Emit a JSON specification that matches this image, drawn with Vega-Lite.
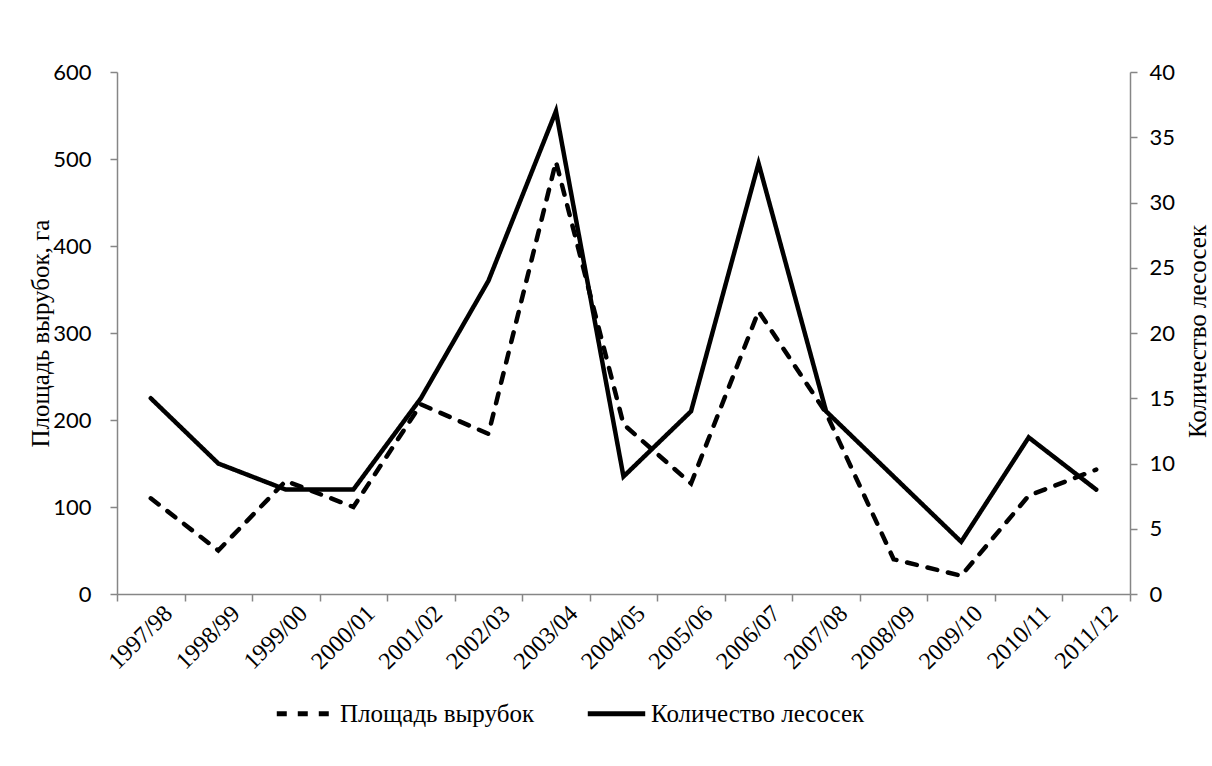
{
  "$schema": "https://vega.github.io/schema/vega-lite/v6.json",
  "width": 1013,
  "height": 522,
  "autosize": {"type": "none"},
  "padding": {"left": 117, "top": 72, "right": 82, "bottom": 172},
  "background": "white",
  "config": {
    "view": {"stroke": null},
    "axis": {
      "grid": false,
      "domainColor": "#868686",
      "tickColor": "#868686",
      "domainWidth": 1.5,
      "tickWidth": 1.5,
      "labelColor": "black",
      "titleColor": "black",
      "titleFontWeight": "normal"
    },
    "legend": {
      "orient": "none",
      "legendX": 157,
      "legendY": 610,
      "direction": "horizontal",
      "symbolType": "stroke",
      "symbolSize": 3300,
      "symbolStrokeWidth": 5,
      "symbolStrokeColor": "black",
      "labelFont": "Times New Roman, Liberation Serif, serif",
      "labelFontSize": 25,
      "labelColor": "black",
      "labelLimit": 500,
      "labelOffset": 3,
      "columnPadding": 42,
      "title": null
    }
  },
  "data": {
    "values": [
      {"season": "1997/98", "area": 110, "count": 15},
      {"season": "1998/99", "area": 50, "count": 10},
      {"season": "1999/00", "area": 130, "count": 8},
      {"season": "2000/01", "area": 100, "count": 8},
      {"season": "2001/02", "area": 218, "count": 15},
      {"season": "2002/03", "area": 184, "count": 24},
      {"season": "2003/04", "area": 497, "count": 37},
      {"season": "2004/05", "area": 195, "count": 9},
      {"season": "2005/06", "area": 127, "count": 14},
      {"season": "2006/07", "area": 325, "count": 33},
      {"season": "2007/08", "area": 208, "count": 14},
      {"season": "2008/09", "area": 40, "count": 9},
      {"season": "2009/10", "area": 21, "count": 4},
      {"season": "2010/11", "area": 113, "count": 12},
      {"season": "2011/12", "area": 143, "count": 8}
    ]
  },
  "encoding": {
    "x": {
      "field": "season",
      "type": "ordinal",
      "sort": null,
      "scale": {"type": "band", "paddingInner": 0, "paddingOuter": 0},
      "axis": {
        "title": null,
        "labelAngle": -45,
        "labelAlign": "right",
        "labelBaseline": "top",
        "labelFont": "Times New Roman, Liberation Serif, serif",
        "labelFontSize": 24,
        "labelLimit": 300,
        "labelOffset": 9,
        "tickBand": "extent",
        "tickSize": 7,
        "labelPadding": 0
      }
    }
  },
  "layer": [
    {
      "mark": {"type": "line", "strokeWidth": 4.5, "strokeCap": "round", "color": "black"},
      "encoding": {
        "y": {
          "field": "area",
          "type": "quantitative",
          "scale": {"domain": [0, 600]},
          "axis": {
            "orient": "left",
            "values": [0, 100, 200, 300, 400, 500, 600],
            "title": "Площадь вырубок, га",
            "titleFont": "Times New Roman, Liberation Serif, serif",
            "titleFontSize": 25,
            "titleAngle": -90,
            "titleX": -77,
            "titleY": 261,
            "titleAlign": "center",
            "titleBaseline": "middle",
            "labelFont": "Lato",
            "labelFontSize": 22,
            "labelPadding": 19,
            "tickSize": 7
          }
        },
        "strokeDash": {
          "datum": "Площадь вырубок",
          "scale": {"domain": ["Площадь вырубок", "Количество лесосек"], "range": [[10, 11], [1, 0]]}
        }
      }
    },
    {
      "mark": {"type": "line", "strokeWidth": 4.5, "strokeCap": "round", "color": "black"},
      "encoding": {
        "y": {
          "field": "count",
          "type": "quantitative",
          "scale": {"domain": [0, 40]},
          "axis": {
            "orient": "right",
            "values": [0, 5, 10, 15, 20, 25, 30, 35, 40],
            "title": "Количество лесосек",
            "titleFont": "Times New Roman, Liberation Serif, serif",
            "titleFontSize": 25,
            "titleAngle": -90,
            "titleX": 67,
            "titleY": 259,
            "titleAlign": "center",
            "titleBaseline": "middle",
            "labelFont": "Lato",
            "labelFontSize": 22,
            "labelPadding": 12,
            "tickSize": 7
          }
        },
        "strokeDash": {"datum": "Количество лесосек"}
      }
    }
  ],
  "resolve": {"scale": {"y": "independent"}}
}
